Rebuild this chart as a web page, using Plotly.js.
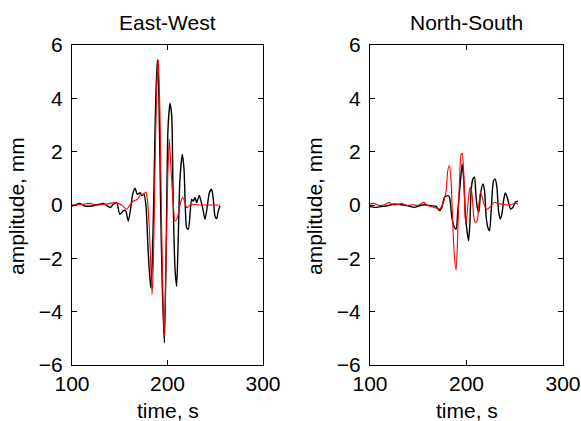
<!DOCTYPE html>
<html>
<head>
<meta charset="utf-8">
<script src="https://cdn.plot.ly/plotly-3.0.1.min.js"></script>
<style>html,body{margin:0;padding:0;background:#fff;}#chart{width:581px;height:421px;}</style>
</head>
<body>
<div id="chart"></div>
<script>
// East-West component
var ewTimeBlack = [100,108,113.6,120,128,133,140,143,146.8,150,153.7,156,159,161.8,163.5,166,168.4,171.2,173,175.4,177.5,178.9,180,182.4,184,186,187.6,189.4,191,192.8,194.6,196.7,198.4,200.5,202.6,204.4,206,207.9,209.6,211.3,213,215.5,217.3,218.7,220,221.8,223.6,225.3,227,228.8,230.5,233.3,234.7,236.8,239.3,241.7,243.8,246.2,248,249.7,251.5,253.2,255];
var ewAmpBlack = [-0.04,0.06,-0.04,-0.04,0.02,0.06,-0.1,0.02,0.09,-0.35,-0.22,-0.2,-0.6,-0.04,0.4,0.63,0.4,0.46,0.36,0.4,-0.04,-1.04,-1.9,-3.1,-2.17,0.96,3.85,5.45,4.1,0,-3.17,-5.17,-2.17,2.84,3.82,3.35,0,-2.4,-3.05,-1.17,0.96,1.9,1.34,-0.16,-0.85,-0.91,-0.35,0.21,0.15,0.28,0.09,0.36,0.2,-0.1,-0.54,-0.04,0.46,0.59,0.21,-0.41,-0.51,-0.22,-0.04];
var ewTimeRed = [100,110,118.8,125,135,145,152,157.2,160.7,164.2,168.4,171.9,174.7,177.5,178.9,181,182.4,183.8,185.2,186.9,188.7,190.4,192.1,193.9,195.6,196.7,198.4,200.2,201.9,203.3,205.4,207.9,210.3,213.1,215.5,217.3,220.1,223.6,228.8,234,245,255];
var ewAmpRed = [0,0.02,0.06,0,0.03,0.09,0,-0.16,0.01,0.15,0.21,0.4,0.4,0.49,0.22,-0.91,-2.17,-3.36,-2.17,1.34,4.35,5.45,3.47,-0.91,-4.05,-4.92,-2.17,0.96,2.47,1.6,0.34,-0.6,-0.48,0,0.28,0.21,-0.1,0,0.02,0,0,0];

// North-South component
var nsTimeBlack = [100,104.5,111.4,118.3,125.3,132.2,139.1,146,151.2,156.4,163.3,168.5,172,174.4,177.2,180.6,182.4,184.8,187.5,189.3,191,193.8,195.5,197.2,199,200.7,202.1,203.5,204.8,206.6,208.3,209.7,211.1,212.8,214.5,217,218.7,220.4,222.1,223.9,225.6,228,229.8,231.5,233.2,234.9,236.7,238.4,240.1,242.2,243.9,245.7,248.1,250.5,253.3];
var nsAmpBlack = [-0.06,-0.09,-0.06,-0.03,0.04,0.01,-0.03,-0.09,-0.03,0.01,-0.03,-0.05,-0.21,-0.09,0.29,0.35,0.29,-0.46,-0.84,-0.9,-0.21,0.91,1.54,0.91,-0.46,-1.02,-1.34,-0.71,0.54,0.97,1.04,0.41,-0.09,-0.27,0.41,0.79,0.54,-0.46,-0.84,-0.96,-0.21,0.91,0.97,0.66,-0.21,-0.52,-0.34,0.16,0.45,0.29,0.04,-0.15,-0.09,0.1,0.14];
var nsTimeRed = [100,104.5,109.7,114.9,120,123.4,128.6,132.2,139,144.2,149.4,155.7,159.8,166.7,172,175.4,178.9,180.6,182.4,184,185.8,187.5,189.3,191,192.7,194.5,195.5,197.2,199,200.3,202.1,203.8,205.5,207.6,209.3,211.1,212.8,214.5,216.3,218,220.4,222.1,225.6,229.1,232.5,236,239.4,244.6,248.1,251.6,253.3];
var nsAmpRed = [0.04,0.06,-0.02,0.01,0.1,0.01,0.01,0.06,-0.02,0.01,-0.02,0.1,-0.02,-0.09,-0.15,0.04,0.54,1.29,1.48,0.91,-0.71,-1.96,-2.44,-0.96,0.91,1.91,1.94,1.16,-0.71,-0.46,0.29,0.66,0.48,-0.46,-0.65,-0.59,0.04,0.48,0.29,0.04,-0.15,-0.15,-0.02,0.1,0.06,0.04,0.01,0.01,0.04,0.06,0.01];

var panelTitles = ["East-West", "North-South"];
var xTickVals = [100, 200, 300];
var yTickVals = [-6, -4, -2, 0, 2, 4, 6];
var xLabel = "time, s";
var yLabel = "amplitude, mm";

var FONT = "'Liberation Sans', Arial, Helvetica, sans-serif";
var FS = 21;

function tr(x, y, color, w, xa, ya) {
  return {x: x, y: y, type: 'scatter', mode: 'lines',
    line: {color: color, width: w, shape: 'spline', smoothing: 0.6},
    xaxis: xa, yaxis: ya, hoverinfo: 'skip', showlegend: false};
}

var data = [
  tr(ewTimeBlack, ewAmpBlack, '#000000', 1.4, 'x', 'y'),
  tr(ewTimeRed, ewAmpRed, '#ff0000', 1.1, 'x', 'y'),
  tr(nsTimeBlack, nsAmpBlack, '#000000', 1.4, 'x2', 'y2'),
  tr(nsTimeRed, nsAmpRed, '#ff0000', 1.1, 'x2', 'y2')
];

function xax(dom, anchor) {
  return {domain: dom, anchor: anchor, range: [100, 300], tickvals: xTickVals,
    ticks: 'inside', ticklen: 5, tickwidth: 1, tickcolor: '#000',
    showline: true, linecolor: '#000', linewidth: 1, mirror: 'ticks',
    showgrid: false, zeroline: false, ticklabelstandoff: 0,
    tickfont: {family: FONT, size: FS, color: '#000'}};
}
function yax(anchor) {
  return {domain: [0.13302, 0.89311], anchor: anchor, range: [-6, 6], tickvals: yTickVals,
    ticks: 'inside', ticklen: 5, tickwidth: 1, tickcolor: '#000',
    showline: true, linecolor: '#000', linewidth: 1, mirror: 'ticks',
    showgrid: false, zeroline: false, ticklabelstandoff: 4,
    tickfont: {family: FONT, size: FS, color: '#000'}};
}

var xd1 = [72/581, 263/581], xd2 = [370/581, 563/581];
function mid(d) { return (d[0] + d[1]) / 2; }

var ann = [];
[xd1, xd2].forEach(function (d, i) {
  ann.push({text: panelTitles[i], xref: 'paper', yref: 'paper', x: mid(d), y: (421-23)/421,
    xanchor: 'center', yanchor: 'middle', showarrow: false, font: {family: FONT, size: FS, color: '#000'}});
  ann.push({text: xLabel, xref: 'paper', yref: 'paper', x: mid(d), y: (421-410)/421,
    xanchor: 'center', yanchor: 'middle', showarrow: false, font: {family: FONT, size: FS, color: '#000'}});
  ann.push({text: yLabel, xref: 'paper', yref: 'paper', x: (d[0]*581 - 55)/581, y: (421-206)/421,
    xanchor: 'center', yanchor: 'middle', textangle: -90, showarrow: false, font: {family: FONT, size: FS, color: '#000'}});
});

var layout = {
  width: 581, height: 421,
  margin: {l: 0, r: 0, t: 0, b: 0},
  paper_bgcolor: '#fff', plot_bgcolor: '#fff',
  showlegend: false,
  xaxis: xax(xd1, 'y'), yaxis: yax('x'),
  xaxis2: xax(xd2, 'y2'), yaxis2: yax('x2'),
  annotations: ann
};

Plotly.newPlot('chart', data, layout, {displayModeBar: false, staticPlot: true});
</script>
</body>
</html>
